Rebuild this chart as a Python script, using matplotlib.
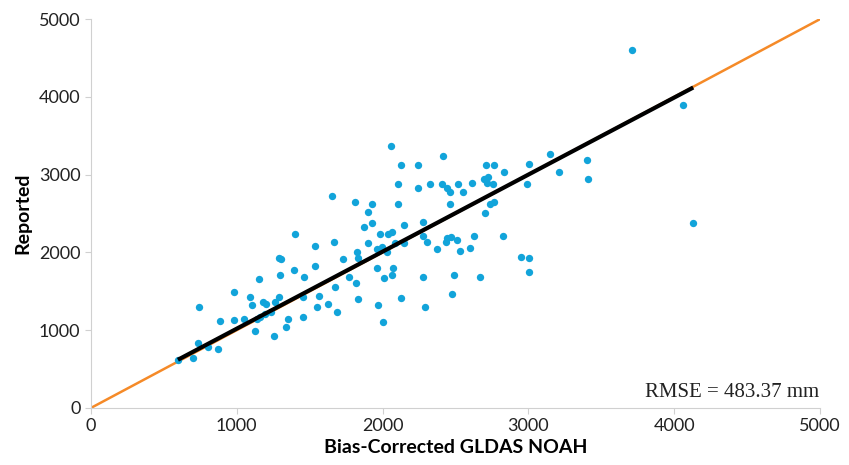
import matplotlib.pyplot as plt

plt.rcParams['font.family'] = ['Lato', 'DejaVu Sans']

# GLDAS NOAH (bias-corrected) vs reported values
noah = [600, 700, 735, 800, 870, 740, 885, 980, 980, 1050, 1090, 1105, 1150, 1125,
        1140, 1160, 1195, 1235, 1180, 1200, 1260, 1290, 1290, 1305, 1295, 1255, 1335,
        1350, 1400, 1390, 1455, 1455, 1565, 1550, 1625, 1690, 1675, 1770, 1820, 1830,
        1970, 2005, 2010, 2065, 2125, 1960, 2070, 1460, 1535, 1535, 1665, 1655, 1730,
        1810, 1925, 2105, 2105, 1900, 1925, 1875, 2145, 1980, 2035, 2065, 1900, 2085,
        2145, 1825, 1960, 1995, 2030, 1830, 2290, 2125, 2060, 2245, 2415, 2710, 2765,
        2835, 3005, 2245, 2325, 2405, 2440, 2460, 2515, 2550, 2615, 2695, 2725, 2715,
        2755, 2990, 2460, 2765, 2735, 2700, 2280, 2280, 2305, 2440, 2470, 2435, 2510,
        2625, 2825, 2375, 2530, 2600, 2950, 3005, 3005, 2280, 2490, 2670, 2475, 3150,
        3210, 3400, 3410, 3710, 4060, 4130]
reported = [620, 640, 835, 785, 760, 1300, 1120, 1130, 1490, 1145, 1425, 1325, 1660, 990,
            1145, 1170, 1210, 1235, 1360, 1335, 1360, 1425, 1930, 1915, 1710, 925, 1040,
            1145, 2235, 1775, 1425, 1170, 1440, 1300, 1335, 1235, 1555, 1685, 1605, 1400,
            1325, 1105, 1670, 1710, 1415, 1800, 1800, 1685, 1825, 2080, 2135, 2725, 1915,
            2650, 2620, 2880, 2620, 2520, 2380, 2325, 2350, 2235, 2235, 2260, 2120, 2120,
            2120, 2005, 2045, 2070, 2005, 1930, 1300, 3125, 3365, 3125, 3240, 3125, 3125,
            3035, 3135, 2830, 2880, 2880, 2830, 2775, 2880, 2775, 2890, 2945, 2970, 2890,
            2880, 2880, 2620, 2650, 2620, 2505, 2390, 2210, 2135, 2185, 2200, 2135, 2160,
            2210, 2210, 2045, 2020, 2055, 1940, 1930, 1750, 1685, 1710, 1685, 1465, 3265,
            3035, 3190, 2945, 4600, 3895, 2375]

one_to_one = [0, 5000]
fit_x = [597, 4130]
fit_y = [620, 4120]
ticks = [0, 1000, 2000, 3000, 4000, 5000]

fig = plt.figure(figsize=(8.49, 4.65), dpi=100)
ax = fig.add_axes([0.107, 0.1226, 0.859, 0.8364])

ax.plot(one_to_one, one_to_one, color='#f58a28', lw=1.8, zorder=1)
ax.scatter(noah, reported, s=28, color='#12a4da', linewidths=0, zorder=2)
ax.plot(fit_x, fit_y, color='black', lw=3.0, solid_capstyle='butt', zorder=3)

ax.set_xlim(0, 5000)
ax.set_ylim(0, 5000)
ax.set_xticks(ticks)
ax.set_yticks(ticks)
for s in ['top', 'right']:
    ax.spines[s].set_visible(False)
for s in ['left', 'bottom']:
    ax.spines[s].set_color('#d0d0d0')
    ax.spines[s].set_linewidth(0.8)
ax.tick_params(colors='#d0d0d0', labelcolor='#222222', labelsize=13, length=4, width=0.8)

ax.set_xlabel('Bias-Corrected GLDAS NOAH', fontsize=14, fontweight='bold', labelpad=3)
ax.set_ylabel('Reported', fontsize=14, fontweight='bold', labelpad=5)

ax.text(4995, 140, 'RMSE = 483.37 mm', family='Liberation Serif', fontsize=15,
        ha='right', va='baseline', color='#222222')

plt.savefig('out.png', dpi=100)
